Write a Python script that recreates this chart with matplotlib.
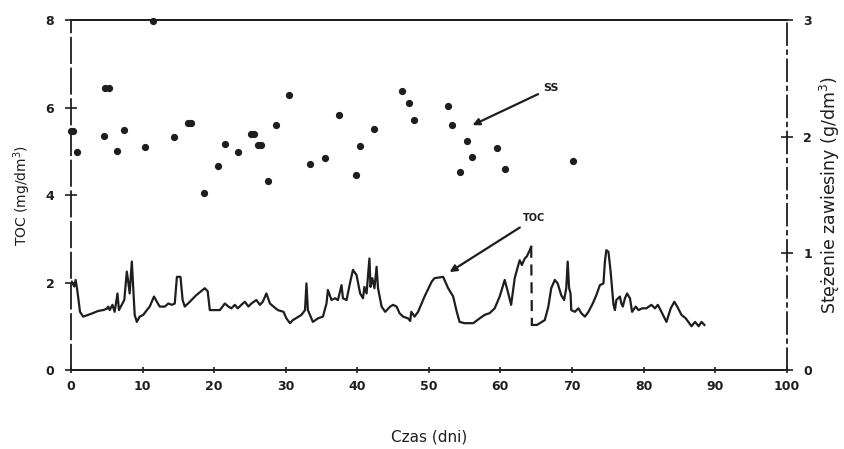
import matplotlib
matplotlib.use("Agg")
import matplotlib.pyplot as plt

# ---- data ----
toc_day_a = [0.1, 0.45, 0.65, 0.9, 1.26, 1.7, 2.9, 3.8, 4.5, 5.0, 5.2, 5.4, 5.8, 6.1, 6.5, 6.7, 7.1, 7.45,
             7.8, 8.0, 8.2, 8.5, 8.7, 8.9, 9.2, 9.6, 10.1, 10.6, 11.0, 11.6, 12.0, 12.4, 13.1, 13.6, 14.1,
             14.5, 14.8, 15.3, 15.6, 15.9, 16.6, 17.5, 18.7, 19.1, 19.4, 20.8, 21.5, 22.0, 22.4, 22.9, 23.3,
             23.8, 24.3, 24.8, 25.2, 25.9, 26.4, 26.8, 27.3, 27.8, 28.3, 28.9, 29.7, 30.1, 30.6, 31.0, 31.8,
             32.2, 32.7, 32.9, 33.1, 33.8, 34.5, 35.2, 35.7, 35.9, 36.4, 36.9, 37.3, 37.8, 38.0, 38.5, 39.0,
             39.4, 39.9, 40.4, 40.8, 41.0, 41.3, 41.7, 41.85, 42.1, 42.4, 42.7, 42.9, 43.4, 43.9, 44.6, 45.0,
             45.5, 45.9, 46.4, 47.1, 47.4, 47.55, 48.0, 48.5, 49.4, 50.4, 50.8, 52.0, 52.7, 53.4, 53.9, 54.3,
             55.0, 56.2, 57.1, 57.8, 58.5, 59.2, 59.9, 60.6, 61.1, 61.5, 62.0, 62.5, 62.7, 63.0, 63.4, 63.7,
             64.1, 64.3]
toc_a = [2.02, 1.91, 2.06, 1.80, 1.33, 1.22, 1.29, 1.35, 1.37, 1.40, 1.45, 1.37, 1.49, 1.33, 1.75, 1.37, 1.49, 1.60,
         2.25, 2.02, 1.75, 2.48, 1.87, 1.26, 1.10, 1.22, 1.26, 1.37, 1.45, 1.68, 1.56, 1.45, 1.45, 1.52, 1.49,
         1.52, 2.13, 2.13, 1.60, 1.45, 1.56, 1.71, 1.87, 1.80, 1.37, 1.37, 1.52, 1.45, 1.41, 1.49, 1.41,
         1.49, 1.56, 1.45, 1.52, 1.60, 1.49, 1.56, 1.75, 1.52, 1.45, 1.37, 1.33, 1.18, 1.07, 1.14, 1.22,
         1.26, 1.37, 1.98, 1.37, 1.10, 1.18, 1.22, 1.52, 1.83, 1.60, 1.64, 1.60, 1.94, 1.64, 1.60, 2.00,
         2.29, 2.17, 1.75, 1.64, 1.90, 1.75, 2.55, 1.90, 2.10, 1.87, 2.36, 1.87, 1.45, 1.33, 1.45, 1.49,
         1.45, 1.30, 1.22, 1.18, 1.12, 1.33, 1.22, 1.33, 1.68, 2.02, 2.10, 2.13, 1.87, 1.68, 1.33, 1.10,
         1.07, 1.07, 1.18, 1.26, 1.30, 1.41, 1.68, 2.06, 1.75, 1.49, 2.10, 2.40, 2.51, 2.40, 2.55, 2.60,
         2.74, 2.82]

toc_day_b = [64.4, 65.1, 65.5, 66.2, 66.7, 67.1, 67.6, 68.0, 68.5, 68.9, 69.2, 69.4, 69.6, 69.8, 69.9, 70.4,
             70.9, 71.3, 71.8, 72.3, 72.9, 73.4, 73.9, 74.4, 74.6, 74.8, 75.1, 75.4, 75.8, 76.0, 76.2, 76.7,
             76.9, 77.1, 77.4, 77.7, 78.1, 78.4, 78.9, 79.3, 79.8, 80.4, 81.1, 81.6, 82.0, 82.5, 83.2, 83.8,
             84.3, 84.7, 85.3, 85.9, 86.7, 87.2, 87.7, 88.1, 88.5]
toc_b = [1.03, 1.03, 1.07, 1.14, 1.45, 1.87, 2.06, 1.98, 1.71, 1.60, 1.87, 2.48, 1.87, 1.75, 1.37, 1.33,
         1.41, 1.30, 1.22, 1.33, 1.52, 1.71, 1.94, 1.98, 2.48, 2.74, 2.70, 2.25, 1.49, 1.37, 1.60, 1.68,
         1.52, 1.45, 1.64, 1.75, 1.64, 1.33, 1.45, 1.37, 1.41, 1.41, 1.49, 1.41, 1.49, 1.33, 1.10, 1.41,
         1.56, 1.45, 1.26, 1.18, 1.00, 1.10, 1.00, 1.10, 1.03]

ss_day = [0.0, 0.35, 0.8, 4.6, 4.8, 5.3, 6.4, 7.4, 10.3, 11.4, 14.4, 16.3, 16.7, 18.6, 20.5, 21.5, 23.3,
          25.1, 25.6, 26.1, 26.5, 27.5, 28.6, 30.4, 33.4, 35.5, 37.4, 39.8, 40.4, 42.3, 46.2, 47.2, 47.9,
          52.7, 53.2, 54.3, 55.3, 56.1, 59.5, 60.6, 70.1]
ss = [2.05, 2.05, 1.87, 2.01, 2.42, 2.42, 1.88, 2.06, 1.91, 2.99, 2.00, 2.12, 2.12, 1.52, 1.75, 1.94, 1.87,
      2.02, 2.02, 1.93, 1.93, 1.62, 2.10, 2.36, 1.77, 1.82, 2.19, 1.67, 1.92, 2.07, 2.39, 2.29, 2.14,
      2.26, 2.10, 1.70, 1.96, 1.83, 1.90, 1.72, 1.79]

x_ticks = [0, 10, 20, 30, 40, 50, 60, 70, 80, 90, 100]
y_left_ticks = [0, 2, 4, 6, 8]
y_right_ticks = [0, 1, 2, 3]

ink = "#1e1e1e"
fig = plt.figure(figsize=(8.45, 4.49), dpi=100)
ax = fig.add_axes([0.084, 0.176, 0.847, 0.779])
ax.set_xlim(0, 100)
ax.set_ylim(0, 8)

ax.plot(toc_day_a, toc_a, color=ink, lw=1.6)
ax.plot(toc_day_b, toc_b, color=ink, lw=1.6)
ax.plot([toc_day_a[-1], toc_day_b[0]], [toc_a[-1], toc_b[0]], color=ink, lw=1.6,
        linestyle=(0, (5, 3)))

ax2 = ax.twinx()
ax2.set_ylim(0, 3)
ax2.plot(ss_day, ss, linestyle="none", marker="o", markersize=4.2, color=ink, clip_on=False)

for a in (ax, ax2):
    for s in a.spines.values():
        s.set_color(ink)
        s.set_linewidth(1.3)
ax.spines["left"].set_linestyle((0, (14, 3)))
ax2.spines["left"].set_visible(False)
ax2.spines["right"].set_linestyle((0, (12, 3, 2, 3)))
ax.spines["right"].set_visible(False)

tick_font = dict(fontsize=9, fontweight="bold", color=ink)
ax.set_xticks(x_ticks)
ax.set_xticklabels([str(t) for t in x_ticks], **tick_font)
ax.set_yticks(y_left_ticks)
ax.set_yticklabels([str(t) for t in y_left_ticks], **tick_font)
ax2.set_yticks(y_right_ticks)
ax2.set_yticklabels([str(t) for t in y_right_ticks], **tick_font)
ax.tick_params(axis="x", direction="inout", length=5, width=1.2, color=ink, pad=5)
ax.tick_params(axis="y", direction="inout", length=8, width=1.2, color=ink, pad=8)
ax2.tick_params(axis="y", direction="inout", length=8, width=1.2, color=ink, pad=8)

ax.set_xlabel("Czas (dni)", fontsize=11, color=ink, labelpad=26)
ax.set_ylabel("TOC (mg/dm$^3$)", fontsize=10, color=ink, labelpad=9)
ax2.set_ylabel("Stężenie zawiesiny (g/dm$^3$)", fontsize=12.5, color=ink, labelpad=4)

arrow = dict(arrowstyle="-|>", color=ink, lw=1.6, mutation_scale=10, shrinkA=2, shrinkB=0)
ax.annotate("SS", xy=(56.1, 5.6), xytext=(66.0, 6.45), fontsize=8, fontweight="bold",
            color=ink, ha="left", va="center", arrowprops=arrow)
ax.annotate("TOC", xy=(52.9, 2.24), xytext=(63.2, 3.47), fontsize=7, fontweight="bold",
            color=ink, ha="left", va="center", arrowprops=arrow)

fig.savefig("out.png", dpi=100, facecolor="white")
